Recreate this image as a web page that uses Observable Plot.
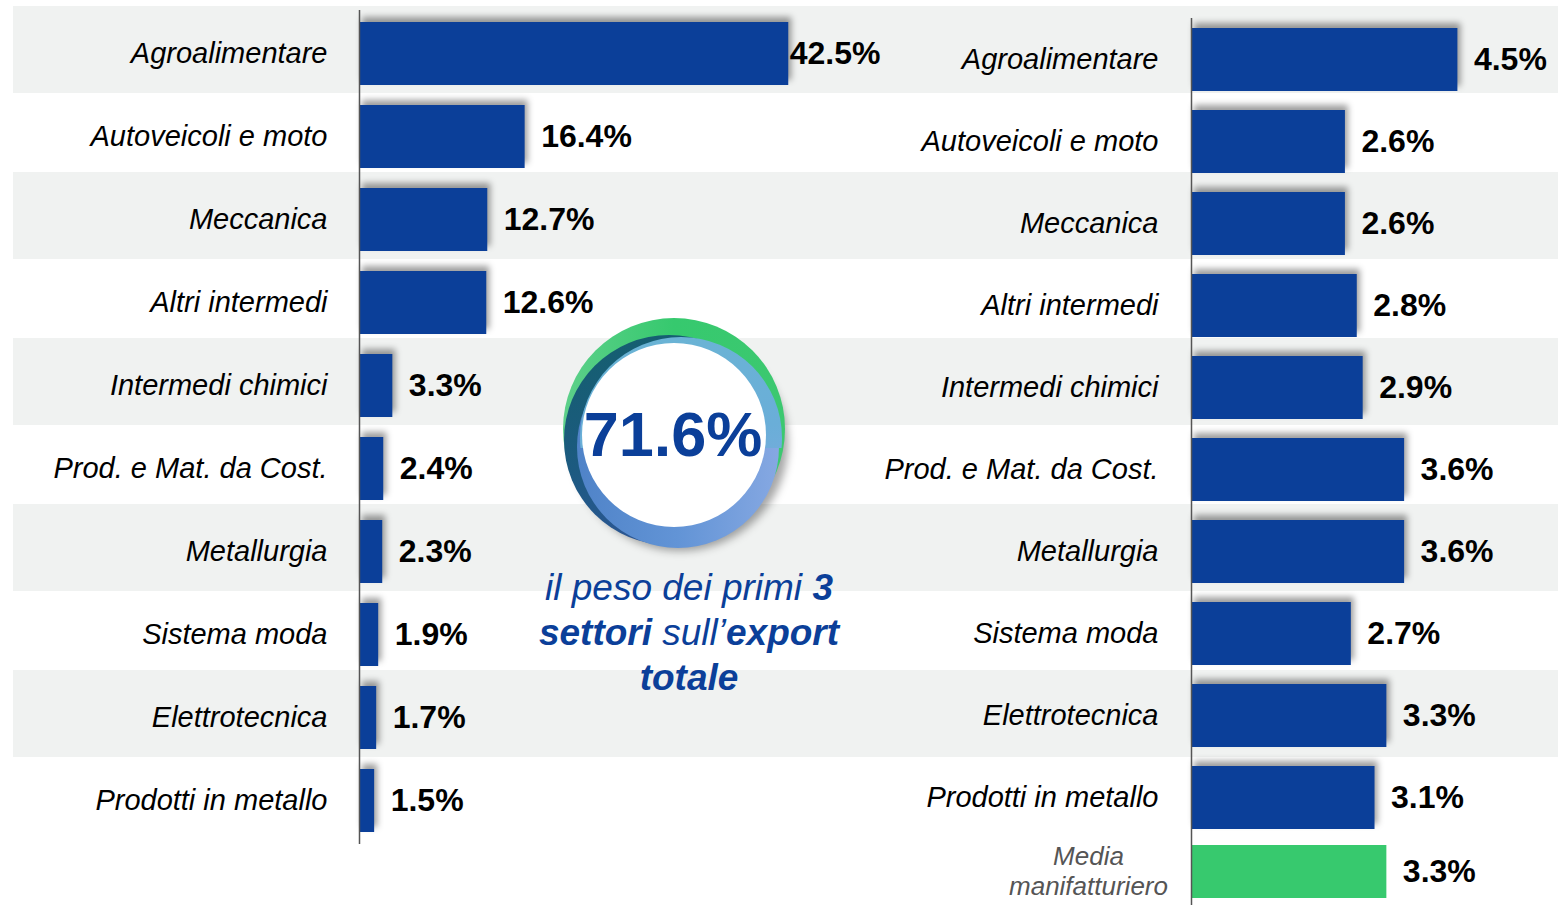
<!DOCTYPE html>
<html><head><meta charset="utf-8">
<script src="https://cdn.jsdelivr.net/npm/d3@7"></script>
<script src="https://cdn.jsdelivr.net/npm/@observablehq/plot@0.6"></script>
<style>
body{margin:0;background:#fff;}
#wrap{position:relative;width:1562px;height:905px;overflow:hidden;font-family:"Liberation Sans",Arial,sans-serif;}
#wrap > .layer{position:absolute;}
.shadow g[aria-label="bar"]{filter:drop-shadow(3px -5px 3px rgba(0,0,0,0.38));}
#caption{position:absolute;left:489px;top:565px;width:400px;text-align:center;font-size:37px;line-height:45px;font-style:italic;color:#0b3f99;}
</style></head><body>
<div id="wrap"></div>
<script>
// ---- data ----
const categories = ["Agroalimentare","Autoveicoli e moto","Meccanica","Altri intermedi","Intermedi chimici","Prod. e Mat. da Cost.","Metallurgia","Sistema moda","Elettrotecnica","Prodotti in metallo"];
const exportShare = [42.5,16.4,12.7,12.6,3.3,2.4,2.3,1.9,1.7,1.5];
const rightValues = [4.5,2.6,2.6,2.8,2.9,3.6,3.6,2.7,3.3,3.1];
const avgLabel = "Media\nmanifatturiero";
const avgValue = 3.3;
const topShareLabel = "71.6%";
const captionHtml = "il peso dei primi <b>3</b><br><b>settori</b> sull’<b>export</b><br><b>totale</b>";

const FONT = "Liberation Sans, Arial, sans-serif";
const BLUE = "#0b3f99", GREEN = "#37c96e", BAND = "#f0f2f1";
const leftData = categories.map((c,i)=>({category:c, value:exportShare[i]}));
const rightData = categories.map((c,i)=>({category:c, value:rightValues[i]}));
const avgData = [{category:avgLabel, value:avgValue}];
const fmt = d => d.value.toFixed(1) + "%";
const wrap = document.getElementById("wrap");
function place(el, left, top, cls){ el.classList.add("layer"); if(cls) el.classList.add(cls); el.style.left=left+"px"; el.style.top=top+"px"; wrap.appendChild(el); }

// background bands
const bg = Plot.plot({
  width:1562, height:905, marginLeft:13, marginRight:4, marginTop:6, marginBottom:65,
  style:{background:"transparent"},
  y:{type:"band", domain:categories, padding:0, axis:null},
  marks:[ Plot.cell(categories.filter((d,i)=>i%2===0), {y:d=>d, fill:BAND, insetTop:-2, insetBottom:-2}) ]
});
place(bg,0,0);

// left panel
const left = Plot.plot({
  width:900, height:905, marginLeft:359, marginRight:36, marginTop:10, marginBottom:61,
  style:{background:"transparent", overflow:"visible", fontFamily:FONT},
  x:{domain:[0,50], axis:null},
  y:{domain:categories, paddingInner:0.244, paddingOuter:0.122, axis:null},
  marks:[
    Plot.barX(leftData, {x:"value", y:"category", fill:BLUE}),
    Plot.text(leftData, {y:"category", text:"category", frameAnchor:"left", dx:-32, textAnchor:"end", fontSize:29, fontStyle:"italic", fontFamily:FONT, fill:"#000"}),
    Plot.text(leftData.filter((d,i)=>i===0), {x:"value", y:"category", text:fmt, dx:1, textAnchor:"start", fontSize:32, fontWeight:"bold", fontFamily:FONT, fill:"#000"}),
    Plot.text(leftData.filter((d,i)=>i>0), {x:"value", y:"category", text:fmt, dx:16, textAnchor:"start", fontSize:32, fontWeight:"bold", fontFamily:FONT, fill:"#000"}),
    Plot.ruleX([0], {stroke:"#555", strokeWidth:1.5})
  ]
});
place(left,0,0,"shadow");

// right panel
const right = Plot.plot({
  width:702, height:838, marginLeft:331, marginRight:75, marginTop:18, marginBottom:0,
  style:{background:"transparent", overflow:"visible", fontFamily:FONT},
  x:{domain:[0,5], axis:null},
  y:{domain:categories, paddingInner:0.232, paddingOuter:0.116, axis:null},
  marks:[
    Plot.barX(rightData, {x:"value", y:"category", fill:BLUE}),
    Plot.text(rightData, {y:"category", text:"category", frameAnchor:"left", dx:-33, textAnchor:"end", fontSize:29, fontStyle:"italic", fontFamily:FONT, fill:"#000"}),
    Plot.text(rightData, {x:"value", y:"category", text:fmt, dx:16, textAnchor:"start", fontSize:32, fontWeight:"bold", fontFamily:FONT, fill:"#000"}),
    Plot.ruleX([0], {stroke:"#555", strokeWidth:1.5})
  ]
});
place(right,860,0,"shadow");

// average row
const avg = Plot.plot({
  width:702, height:67, marginLeft:331, marginRight:75, marginTop:0, marginBottom:0,
  style:{background:"transparent", overflow:"visible", fontFamily:FONT},
  x:{domain:[0,5], axis:null},
  y:{domain:[avgLabel], padding:0, axis:null},
  marks:[
    Plot.barX(avgData, {x:"value", y:"category", fill:GREEN, insetTop:7, insetBottom:7}),
    Plot.text(avgData, {y:"category", text:"category", frameAnchor:"left", dx:-103, dy:-2, textAnchor:"middle", lineHeight:1.15, fontSize:26, fontStyle:"italic", fontFamily:FONT, fill:"#555"}),
    Plot.text(avgData, {x:"value", y:"category", text:fmt, dx:16, textAnchor:"start", fontSize:32, fontWeight:"bold", fontFamily:FONT, fill:"#000"}),
    Plot.ruleX([0], {stroke:"#555", strokeWidth:1.5})
  ]
});
place(avg,860,838);

// circle badge
const svg = d3.create("svg").attr("width",1562).attr("height",905).style("pointer-events","none");
const defs = svg.append("defs");
defs.append("filter").attr("id","blur").attr("x","-20%").attr("y","-20%").attr("width","140%").attr("height","140%")
  .append("feGaussianBlur").attr("stdDeviation",4);
defs.append("clipPath").attr("id","topHalf").append("rect").attr("x",500).attr("y",300).attr("width",360).attr("height",148);
function lg(id, x1,y1,x2,y2, stops){ const g=defs.append("linearGradient").attr("id",id).attr("x1",x1).attr("y1",y1).attr("x2",x2).attr("y2",y2);
  stops.forEach(([o,c])=>g.append("stop").attr("offset",o).attr("stop-color",c)); }
lg("gGreen",0,0,1,0,[[0,"#5dd08a"],[0.5,"#36c96e"],[1,"#3cc870"]]);
lg("gTeal",0,0,0.3,1,[[0,"#145f6e"],[0.6,"#1c5a80"],[1,"#2c5694"]]);
lg("gLight",0,0,0.2,1,[[0,"#6ab4d4"],[0.6,"#6aaed8"],[1,"#7eaadf"]]);
lg("gMid",0,0,1,0,[[0,"#4f83c8"],[0.5,"#6294d6"],[1,"#86a8e2"]]);
svg.append("circle").attr("cx",680).attr("cy",443).attr("r",108).attr("fill","rgba(0,0,0,0.35)").attr("filter","url(#blur)");
svg.append("circle").attr("cx",674).attr("cy",429).attr("r",111).attr("fill","url(#gGreen)");
svg.append("circle").attr("cx",669).attr("cy",440).attr("r",105).attr("fill","url(#gTeal)");
svg.append("circle").attr("cx",678).attr("cy",447).attr("r",101).attr("fill","url(#gMid)");
svg.append("circle").attr("cx",681).attr("cy",438).attr("r",101).attr("fill","url(#gLight)").attr("clip-path","url(#topHalf)");
svg.append("circle").attr("cx",674).attr("cy",435).attr("r",92).attr("fill","#fff");
svg.append("text").attr("x",673).attr("y",456).attr("text-anchor","middle").attr("font-family",FONT)
  .attr("font-weight","bold").attr("font-size",63).attr("fill",BLUE).text(topShareLabel);
place(svg.node(),0,0);

const cap = document.createElement("div");
cap.id = "caption"; cap.innerHTML = captionHtml; wrap.appendChild(cap);
</script>
</body></html>
